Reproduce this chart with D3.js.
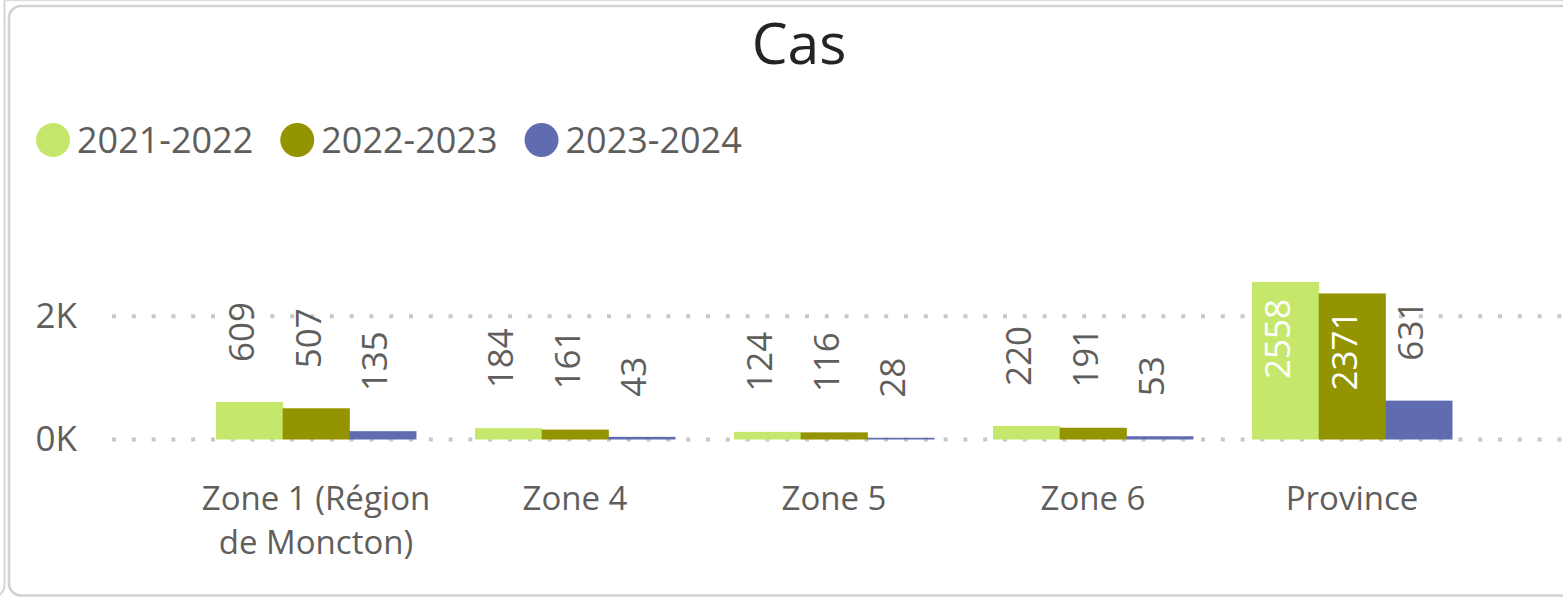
<!DOCTYPE html>
<html>
<head>
<meta charset="utf-8">
<script src="https://cdn.jsdelivr.net/npm/d3@7"></script>
<style>
  html, body { margin: 0; padding: 0; background: #fff; overflow: hidden; }
  svg { display: block; font-family: 'Open Sans', 'Noto Sans', sans-serif; }
</style>
</head>
<body>
<svg id="chart" width="1563" height="603"></svg>
<script>
const categories = ['Zone 1 (Région de Moncton)', 'Zone 4', 'Zone 5', 'Zone 6', 'Province']
const seriesNames = ['2021-2022', '2022-2023', '2023-2024']
const values2122 = [609, 184, 124, 220, 2558]
const values2223 = [507, 161, 116, 191, 2371]
const values2324 = [135, 43, 28, 53, 631]
const yTicks = [0, 2000]

const COLORS = ['#C5E86C', '#949400', '#606CB0']
const TEXT = '#605E5C'

const width = 1563
const height = 603

const svg = d3.select('#chart')

// frame lines around the visual
svg.append('rect')
  .attr('x', -600).attr('y', -20).attr('width', 604.5).attr('height', 617)
  .attr('rx', 12).attr('fill', 'none').attr('stroke', '#d6d6d6').attr('stroke-width', 2)
svg.append('line')
  .attr('x1', 6).attr('x2', width).attr('y1', 0.5).attr('y2', 0.5)
  .attr('stroke', '#dcdcdc').attr('stroke-width', 1.5)
svg.append('rect')
  .attr('x', 9).attr('y', 6).attr('width', 1620).attr('height', 589.5)
  .attr('rx', 12).attr('fill', '#fff').attr('stroke', '#d2d2d2').attr('stroke-width', 2.6)

svg.append('text')
  .attr('x', 799).attr('y', 64)
  .attr('text-anchor', 'middle')
  .attr('fill', '#252423')
  .style('font-size', '57px')
  .text('Cas')

// legend
const legend = svg.append('g')
let lx = 53
seriesNames.forEach((name, i) => {
  legend.append('circle')
    .attr('cx', lx).attr('cy', 140).attr('r', 17)
    .attr('fill', COLORS[i])
  const t = legend.append('text')
    .attr('x', lx + 24).attr('y', 140).attr('dy', '0.35em')
    .attr('fill', TEXT)
    .style('font-size', '36px')
    .text(name)
  lx = lx + 24 + t.node().getComputedTextLength() + 44
})

const series = [values2122, values2223, values2324]
const data = categories.map((c, i) => ({
  category: c,
  values: series.map((s, j) => ({ name: seriesNames[j], value: s[i] }))
}))

const x0 = d3.scaleBand()
  .domain(categories)
  .range([186.5, 1481.5])
  .paddingInner(0.228)
  .paddingOuter(0.114)

const x1 = d3.scaleBand()
  .domain(seriesNames)
  .range([0, x0.bandwidth()])

const y = d3.scaleLinear()
  .domain([0, 3000])
  .range([439.5, 439.5 - 0.0616 * 3000])

const color = d3.scaleOrdinal().domain(seriesNames).range(COLORS)

// gridlines + y labels
const yAxis = svg.append('g')
  .attr('transform', 'translate(77,0)')
  .call(d3.axisLeft(y).tickValues(yTicks).tickSize(0).tickPadding(0)
    .tickFormat(d => (d / 1000) + 'K'))
yAxis.select('.domain').remove()
yAxis.selectAll('text')
  .attr('fill', TEXT)
  .style('font-size', '35px')
  .style('font-family', "'Open Sans', 'Noto Sans', sans-serif")

svg.append('g')
  .selectAll('line')
  .data(yTicks)
  .join('line')
    .attr('x1', 112).attr('x2', width)
    .attr('y1', d => y(d)).attr('y2', d => y(d))
    .attr('stroke', '#c8c8c8')
    .attr('stroke-width', 4)
    .attr('stroke-dasharray', '4 15.8')

// bars
const groups = svg.append('g')
  .selectAll('g')
  .data(data)
  .join('g')
    .attr('transform', d => `translate(${x0(d.category)},0)`)

groups.selectAll('rect')
  .data(d => d.values)
  .join('rect')
    .attr('x', d => x1(d.name))
    .attr('y', d => y(d.value))
    .attr('width', x1.bandwidth() + 0.5)
    .attr('height', d => y(0) - y(d.value))
    .attr('fill', d => color(d.name))

// data labels, rotated
groups.selectAll('text.label')
  .data(d => d.values)
  .join('text')
    .attr('class', 'label')
    .style('font-size', '35px')
    .attr('dy', '0.13em')
    .text(d => d.value)
    .each(function (d) {
      const el = d3.select(this)
      const len = this.getComputedTextLength()
      const barH = y(0) - y(d.value)
      const cx = x1(d.name) + x1.bandwidth() / 2
      if (barH > len + 40) {
        el.attr('transform', `translate(${cx},${y(d.value) + 17}) rotate(-90)`)
          .attr('text-anchor', 'end')
          .attr('fill', '#fff')
      } else {
        el.attr('transform', `translate(${cx},${y(d.value) - 40}) rotate(-90)`)
          .attr('text-anchor', 'start')
          .attr('fill', TEXT)
      }
    })

// category labels
svg.append('g')
  .selectAll('text')
  .data(categories)
  .join('text')
    .attr('x', d => x0(d) + x0.bandwidth() / 2)
    .attr('y', 510)
    .attr('text-anchor', 'middle')
    .attr('fill', TEXT)
    .style('font-size', '33px')
    .text(d => d)
    .call(wrap, x0.step())

function wrap (sel, maxW) {
  sel.each(function () {
    const text = d3.select(this)
    const words = text.text().split(/\s+/)
    const cx = text.attr('x')
    text.text(null)
    let line = []
    let tspan = text.append('tspan').attr('x', cx).attr('dy', 0)
    words.forEach(w => {
      line.push(w)
      tspan.text(line.join(' '))
      if (tspan.node().getComputedTextLength() > maxW && line.length > 1) {
        line.pop()
        tspan.text(line.join(' '))
        line = [w]
        tspan = text.append('tspan').attr('x', cx).attr('dy', 44).text(w)
      }
    })
  })
}
</script>
</body>
</html>
